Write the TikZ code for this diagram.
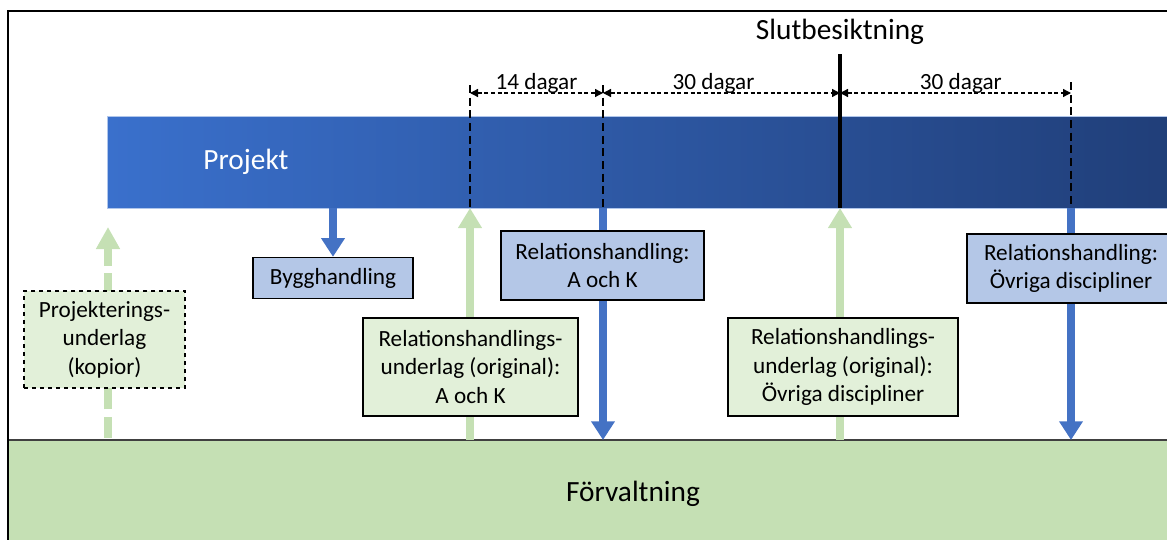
\documentclass[tikz,border=0pt]{standalone}
\usepackage{fontspec}
\setmainfont{Carlito}
\usetikzlibrary{arrows.meta}
\definecolor{projblue}{HTML}{3A70CC}
\definecolor{projmid}{HTML}{2C59A8}
\definecolor{projdark}{HTML}{203E78}
\definecolor{docblue}{HTML}{B4C7E7}
\definecolor{arrblue}{HTML}{4472C4}
\definecolor{mgmtgreen}{HTML}{C5E0B4}
\definecolor{docgreen}{HTML}{E2F0D9}
\tikzset{
	lbl/.style={font=\fontsize{17.4}{21.4}\selectfont, align=center, inner sep=0pt},
	biglbl/.style={font=\fontsize{22}{26}\selectfont, inner sep=0pt},
	bluebox/.style={lbl, draw=black, line width=1pt, fill=docblue},
	greenbox/.style={lbl, draw=black, line width=1pt, fill=docgreen},
	sendarrow/.style={arrblue, line width=6pt, -{Triangle[width=17pt,length=14pt]}},
	backarrow/.style={mgmtgreen, line width=6pt, -{Triangle[width=17pt,length=15pt]}},
	tickline/.style={line width=2pt, dash pattern=on 6pt off 3.5pt},
	spanarrow/.style={line width=1pt, dash pattern=on 3pt off 2pt, {Triangle[width=6pt,length=6pt]}-{Triangle[width=6pt,length=6pt]}}
}

\begin{document}
\begin{tikzpicture}[x=0.75pt, y=-0.75pt]
		%%%%% START %%%%%
		\useasboundingbox (0, 0) rectangle (1167, 539);
		\clip (0, 0) rectangle (1167, 539);
		
		% bands
		\draw[draw=black!75, line width=1.2pt, fill=mgmtgreen] (8, 440) rectangle (1180, 560);
		\shade[left color=projblue, middle color=projmid, right color=projdark] (107, 116) rectangle (1180, 208);
		\draw[line width=0.6pt, color=projblue!40!white] (1180, 116) -- (107, 116) -- (107, 208) -- (1180, 208);
		\draw[line width=1.5pt] (8, 545) -- (8, 11) -- (1180, 11);
		
		\node[biglbl, text=white] (proj) at (246, 162) {Projekt};
		\node[biglbl] (forv) at (633, 494) {Förvaltning};
		\node[biglbl] (slut) at (840, 32) {Slutbesiktning};
		
		% points on the bands
		\coordinate (p0) at (108, 227);
		\coordinate (p1) at (333, 208);
		\coordinate (p2) at (470, 208);
		\coordinate (p3) at (603, 208);
		\coordinate (p4) at (840, 208);
		\coordinate (p5) at (1071, 208);
		\coordinate (f0) at (108, 440);
		\coordinate (f2) at (470, 440);
		\coordinate (f3) at (603, 440);
		\coordinate (f4) at (840, 440);
		\coordinate (f5) at (1071, 440);
		
		% green arrows back to the project
		\draw[backarrow, -{Triangle[width=17pt,length=16.5pt]}, dash pattern=on 16pt off 5.5pt, dash phase=20pt] (f0) -- (p0);
		\draw[backarrow] (f2) -- (p2);
		\draw[backarrow] (f4) -- (p4);
		
		% blue arrows down
		\draw[sendarrow] (p3) -- (f3);
		\draw[sendarrow] (p5) -- (f5);
		
		\node[greenbox, dashed, minimum width=120.75pt, minimum height=72.75pt] (projund) at (104.5, 339.5) {Projekterings-\\underlag\\(kopior)};
		\node[bluebox, minimum width=120pt, minimum height=30.75pt] (bygg) at (333, 278) {Bygghandling};
		\node[bluebox, minimum width=152.25pt, minimum height=51.75pt] (relak) at (602.5, 265.5) {Relationshandling:\\A och K};
		\node[bluebox, minimum width=156pt, minimum height=51.75pt] (relovr) at (1071, 268.5) {Relationshandling:\\Övriga discipliner};
		\node[greenbox, minimum width=161.25pt, minimum height=73.5pt] (undak) at (470.5, 367) {Relationshandlings-\\underlag (original):\\A och K};
		\node[greenbox, minimum width=172.5pt, minimum height=73.5pt] (undovr) at (843, 367) {Relationshandlings-\\underlag (original):\\Övriga discipliner};
		
		\draw[sendarrow] (p1) -- (bygg.north);
		
		% time marks
		\coordinate (t2) at (470, 85);
		\coordinate (t3) at (603, 85);
		\coordinate (t4) at (840, 54);
		\coordinate (t5) at (1071, 82);
		\draw[tickline] (t2) -- (p2);
		\draw[tickline] (t3) -- (p3);
		\draw[tickline] (t5) -- (p5);
		\draw[line width=2.5pt] (t4) -- (p4);
		
		\coordinate (d2) at (470, 93);
		\coordinate (d3) at (603, 93);
		\coordinate (d4) at (840, 93);
		\coordinate (d5) at (1071, 93);
		\draw[spanarrow] (d2) -- node[lbl, anchor=base, yshift=3pt] {14 dagar} (d3);
		\draw[spanarrow] (d3) -- node[lbl, anchor=base, yshift=3pt, xshift=-6pt] {30 dagar} (d4);
		\draw[spanarrow] (d4) -- node[lbl, anchor=base, yshift=3pt, xshift=4pt] {30 dagar} (d5);
		
		%%%%% END %%%%%
\end{tikzpicture}
\end{document}
